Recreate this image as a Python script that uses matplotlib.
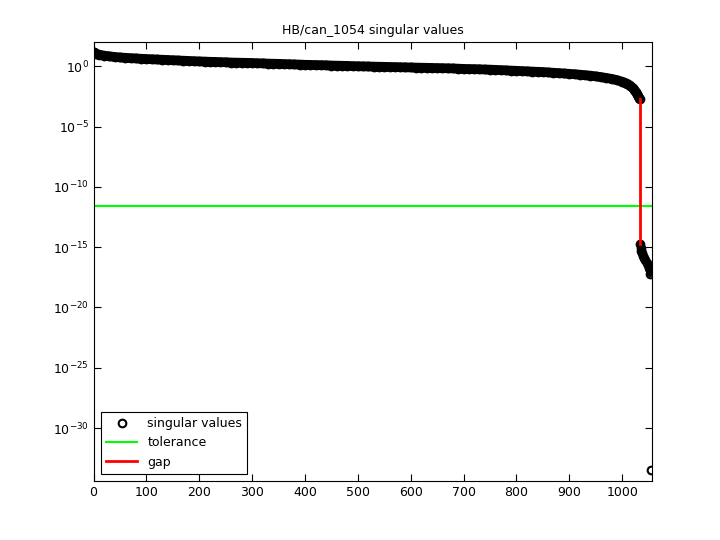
import numpy as np
import matplotlib.pyplot as plt

# singular value index and log10(sigma)
sv_index = [1, 5, 10, 20, 30, 40, 50, 60, 70, 80, 90, 100, 110, 120, 130, 140, 150,
            160, 170, 180, 190, 200, 210, 220, 230, 240, 250, 260, 270, 280, 290, 300,
            310, 320, 330, 340, 350, 360, 370, 380, 390, 400, 410, 420, 430, 440, 450,
            460, 470, 480, 490, 500, 510, 520, 530, 540, 550, 560, 570, 580, 590, 600,
            610, 620, 630, 640, 650, 660, 670, 680, 690, 700, 710, 720, 730, 740, 750,
            760, 770, 780, 790, 800, 810, 820, 830, 840, 850, 860, 870, 880, 890, 900,
            910, 920, 930, 940, 950, 960, 970, 980, 990, 1000, 1005, 1010, 1015, 1020,
            1023, 1026, 1028, 1030, 1032, 1033,
            1034, 1035, 1036, 1038, 1040, 1042, 1044, 1046, 1048, 1050, 1052, 1053, 1054]
sv_log10 = [1.15, 1.05, 0.97, 0.88, 0.82, 0.77, 0.73, 0.70, 0.67, 0.65, 0.62, 0.60, 0.58,
            0.56, 0.54, 0.52, 0.50, 0.48, 0.46, 0.44, 0.42, 0.40, 0.39, 0.37, 0.36, 0.34,
            0.33, 0.31, 0.30, 0.29, 0.28, 0.27, 0.25, 0.24, 0.22, 0.21, 0.20, 0.18, 0.17,
            0.15, 0.14, 0.12, 0.11, 0.10, 0.09, 0.08, 0.06, 0.05, 0.04, 0.03, 0.01, 0.00,
            -0.01, -0.02, -0.03, -0.04, -0.05, -0.06, -0.07, -0.08, -0.09, -0.10, -0.11,
            -0.12, -0.13, -0.14, -0.15, -0.16, -0.17, -0.18, -0.20, -0.22, -0.23, -0.24,
            -0.25, -0.27, -0.28, -0.30, -0.32, -0.34, -0.36, -0.38, -0.40, -0.42, -0.44,
            -0.46, -0.48, -0.51, -0.54, -0.57, -0.60, -0.63, -0.66, -0.70, -0.74, -0.78,
            -0.84, -0.90, -0.97, -1.05, -1.15, -1.28, -1.36, -1.46, -1.60, -1.80, -1.95,
            -2.15, -2.30, -2.45, -2.62, -2.72,
            -14.7, -15.1, -15.3, -15.5, -15.7, -15.9, -16.1, -16.3, -16.5, -16.7, -16.9,
            -17.2, -33.5]
tolerance = 10 ** -11.6
gap_index = 1033.5
gap_top = 10 ** -2.72
gap_bottom = 10 ** -14.7

idx = np.array(sv_index)
sv = 10.0 ** np.array(sv_log10)
above = idx <= 1033
tail = (idx > 1033) & (idx < 1054)

fig = plt.figure(figsize=(7.2, 5.4), dpi=100)
ax = fig.add_axes([0.13, 0.109, 0.776, 0.813])
# dense markers merge into a solid band in the reference
ax.semilogy(idx[above], sv[above], '-', color='black', lw=7, solid_capstyle='round')
ax.semilogy(idx[tail], sv[tail], '-', color='black', lw=5, solid_capstyle='round')
ax.semilogy(idx, sv, 'o', mfc='none', mec='black', mew=1.5, ms=5.5,
            label='singular values')
ax.axhline(tolerance, color='#00ff00', lw=1.5, label='tolerance')
ax.plot([gap_index, gap_index], [gap_top, gap_bottom], color='red', lw=2, label='gap')

ax.set_xlim(0, 1057)
ax.set_ylim(10 ** -34.4, 10 ** 2)
ax.set_xticks(range(0, 1001, 100))
ax.set_yticks([10.0 ** k for k in range(-30, 1, 5)])
ax.minorticks_off()
ax.tick_params(direction='in', top=True, right=True, labelsize=9, length=5)
ax.set_title('HB/can_1054 singular values', fontsize=9)
leg = ax.legend(loc='lower left', fontsize=9, fancybox=False, edgecolor='black',
                framealpha=1, borderaxespad=0.6, handlelength=2.5)
leg.get_frame().set_linewidth(0.8)

fig.savefig('out.png', dpi=100)
